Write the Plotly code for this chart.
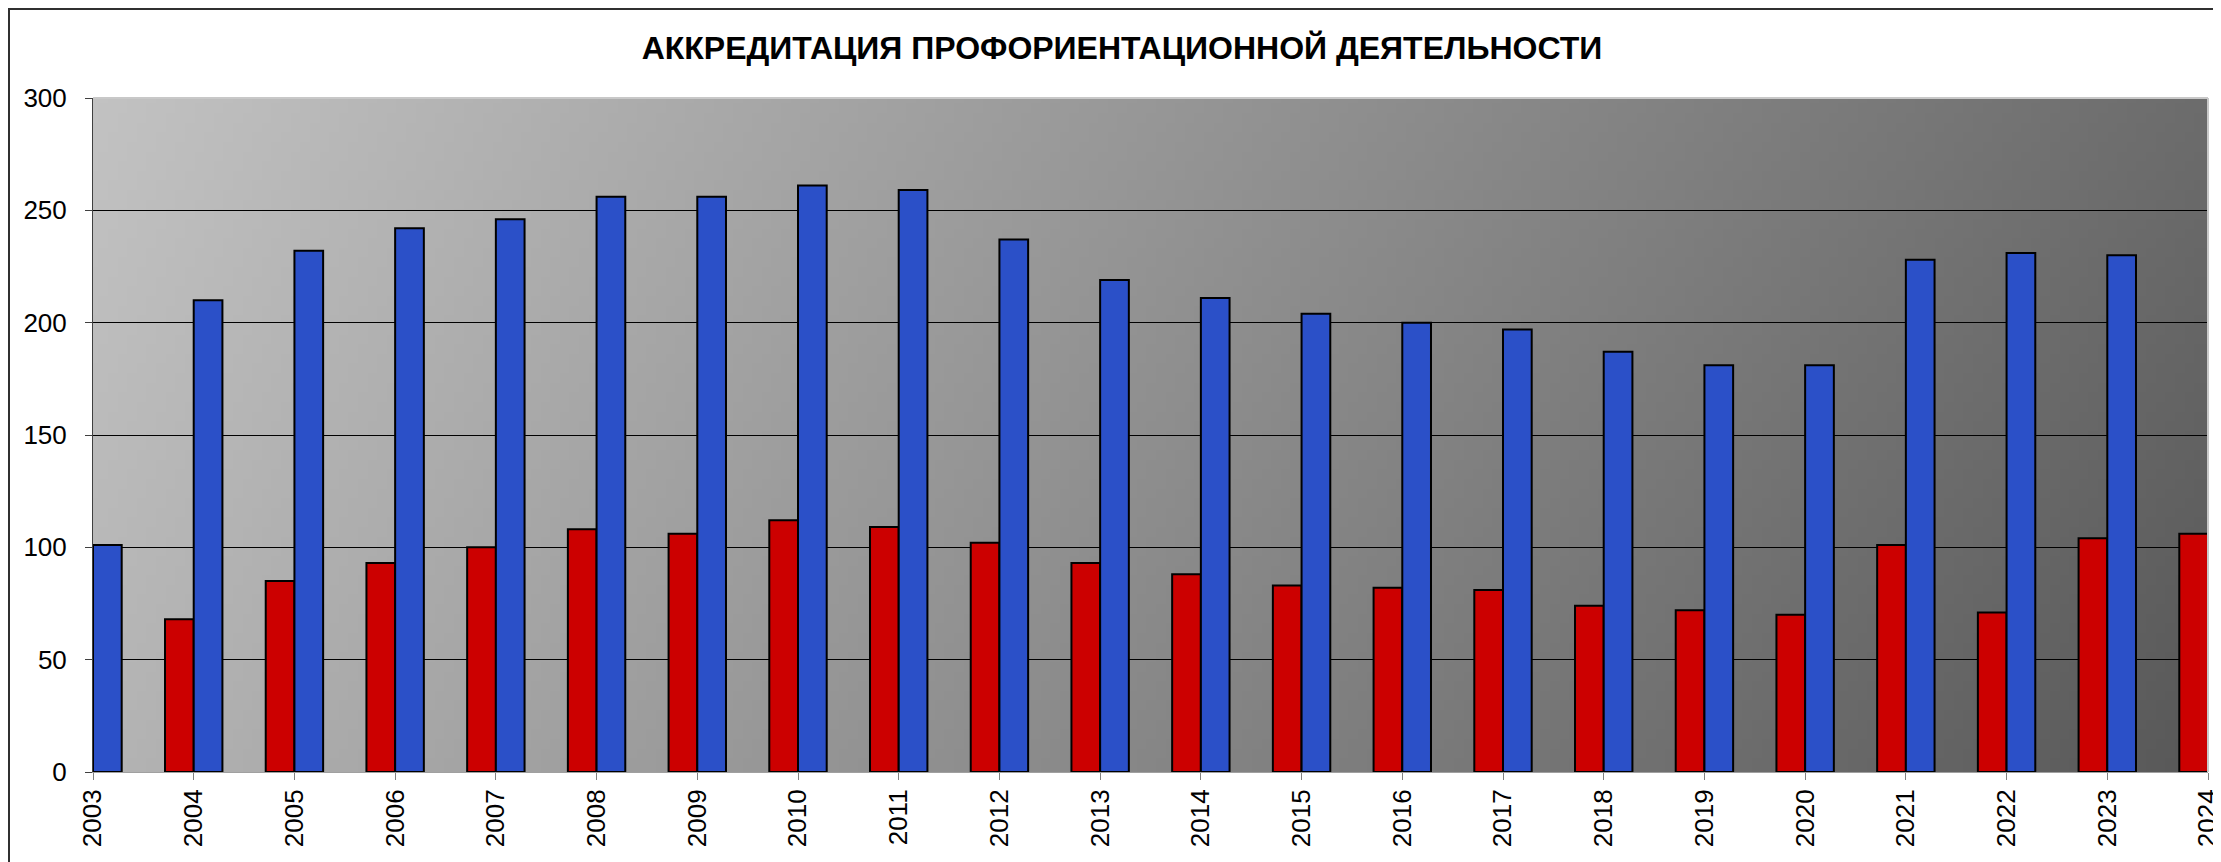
import base64
import struct
import zlib

import plotly.graph_objects as go

# ---------------- data ----------------
years = list(range(2003, 2025))
year_labels = [str(y) for y in years]
red_values = [None, 68, 85, 93, 100, 108, 106, 112, 109, 102, 93, 88, 83, 82, 81, 74, 72, 70, 101, 71, 104, 106]
blue_values = [101, 210, 232, 242, 246, 256, 256, 261, 259, 237, 219, 211, 204, 200, 197, 187, 181, 181, 228, 231, 230, 236]
y_ticks = [0, 50, 100, 150, 200, 250, 300]

TITLE = "АККРЕДИТАЦИЯ ПРОФОРИЕНТАЦИОННОЙ ДЕЯТЕЛЬНОСТИ"

# ---------------- layout constants (pixels, figure coords; page body has 8px margin) ----------------
W, H = 2213, 854
ML, MR, MT, MB = 85, 13, 90, 90
PW, PH = W - ML - MR, H - MT - MB
FONT = "Arial, 'Liberation Sans', sans-serif"


def gradient_png(w, h, tl, tr, bl, br):
    rows = b""
    for j in range(h):
        v = j / (h - 1)
        row = bytearray([0])
        for i in range(w):
            u = i / (w - 1)
            top = tl + (tr - tl) * u
            bot = bl + (br - bl) * u
            row.append(int(round(top + (bot - top) * v)))
        rows += bytes(row)

    def chunk(tag, data):
        c = tag + data
        return struct.pack(">I", len(data)) + c + struct.pack(">I", zlib.crc32(c) & 0xFFFFFFFF)

    png = b"\x89PNG\r\n\x1a\n"
    png += chunk(b"IHDR", struct.pack(">IIBBBBB", w, h, 8, 0, 0, 0, 0))
    png += chunk(b"IDAT", zlib.compress(rows, 9))
    png += chunk(b"IEND", b"")
    return "data:image/png;base64," + base64.b64encode(png).decode()


bg_src = gradient_png(220, 70, 194, 108, 180, 88)

fig = go.Figure()
fig.add_trace(go.Bar(
    x=years, y=red_values, name="red",
    marker=dict(color="#cc0000", line=dict(color="black", width=2)),
))
fig.add_trace(go.Bar(
    x=years, y=blue_values, name="blue",
    marker=dict(color="#2b50c8", line=dict(color="black", width=2)),
))


def px_to_paper_x(px):
    return (px - ML) / PW


def px_to_paper_y(py):
    return (H - MB - py) / PH


fig.update_layout(
    width=W, height=H,
    autosize=False,
    margin=dict(l=ML, r=MR, t=MT, b=MB, pad=0, autoexpand=False),
    paper_bgcolor="white",
    plot_bgcolor="rgba(0,0,0,0)",
    barmode="group",
    bargap=0.43,
    bargroupgap=0,
    showlegend=False,
    font=dict(family=FONT, color="black"),
    title=dict(
        text="<b>" + TITLE + "</b>",
        font=dict(family=FONT, size=32, color="black"),
        xref="container", yref="container",
        x=1114 / W, y=1 - 40 / H, xanchor="center", yanchor="middle",
    ),
    xaxis=dict(
        range=[2003, 2024],
        automargin=False,
        tickmode="array", tickvals=years, ticktext=year_labels,
        tickangle=-90,
        tickfont=dict(size=26, family=FONT, color="black"),
        ticks="outside", ticklen=7, tickcolor="#808080", tickwidth=1,
        showline=True, linecolor="#a0a0a0", linewidth=1,
        showgrid=False, zeroline=False,
        ticklabelstandoff=-1,
        ticklabeloverflow="allow",
    ),
    yaxis=dict(
        range=[0, 300],
        automargin=False,
        tickmode="array", tickvals=y_ticks,
        tickfont=dict(size=26, family=FONT, color="black"),
        ticks="outside", ticklen=7, tickcolor="#404040", tickwidth=1,
        showline=True, linecolor="#404040", linewidth=1,
        showgrid=True, gridcolor="black", gridwidth=1,
        zeroline=False,
        ticklabelstandoff=13,
    ),
    images=[dict(
        source=bg_src, xref="paper", yref="paper",
        x=0, y=1, sizex=1, sizey=1, sizing="stretch",
        xanchor="left", yanchor="top", layer="below",
    )],
    shapes=[
        # light border on top and right of plot area
        dict(type="line", xref="paper", yref="paper", x0=0, x1=1, y0=1, y1=1,
             line=dict(color="#c8c8c8", width=2)),
        dict(type="line", xref="paper", yref="paper", x0=1, x1=1, y0=0, y1=1,
             line=dict(color="#c8c8c8", width=2)),
        # outer chart frame (extends beyond the window on the right and bottom)
        dict(type="rect", xref="paper", yref="paper",
             x0=px_to_paper_x(1), x1=px_to_paper_x(W + 20),
             y0=px_to_paper_y(H + 20), y1=px_to_paper_y(1),
             line=dict(color="#303030", width=2), fillcolor="rgba(0,0,0,0)"),
    ],
)

fig.write_html("out.html")
